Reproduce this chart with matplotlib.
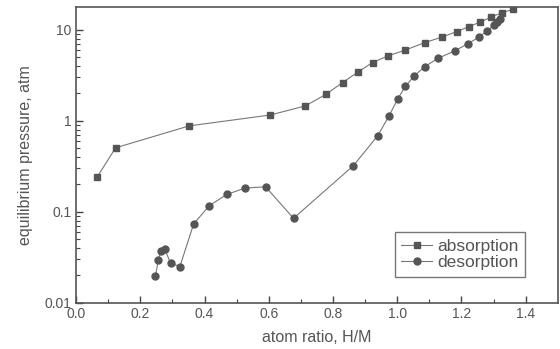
import matplotlib.pyplot as plt

plt.rcParams['font.family'] = ['Liberation Sans', 'DejaVu Sans']

abs_x = [0.065, 0.123, 0.352, 0.605, 0.714, 0.778, 0.830, 0.878, 0.923, 0.971,
         1.025, 1.086, 1.141, 1.185, 1.224, 1.258, 1.293, 1.327, 1.361]
abs_y = [0.24, 0.505, 0.88, 1.16, 1.46, 1.96, 2.64, 3.45, 4.38, 5.18,
         6.0, 7.27, 8.38, 9.6, 10.9, 12.2, 13.9, 15.5, 16.9]

des_x = [0.247, 0.256, 0.264, 0.276, 0.294, 0.323, 0.366, 0.414, 0.469, 0.526,
         0.590, 0.677, 0.863, 0.939, 0.975, 1.001, 1.025, 1.053, 1.086, 1.128,
         1.179, 1.221, 1.255, 1.280, 1.301, 1.311, 1.319]
des_y = [0.0195, 0.0295, 0.0367, 0.0386, 0.0273, 0.0249, 0.0733, 0.116, 0.155, 0.182,
         0.188, 0.0846, 0.32, 0.684, 1.14, 1.73, 2.39, 3.12, 3.96, 4.89,
         5.88, 7.08, 8.38, 9.75, 11.3, 12.2, 13.1]

xticks = [0.0, 0.2, 0.4, 0.6, 0.8, 1.0, 1.2, 1.4]
yticks = [0.01, 0.1, 1, 10]
ytick_labels = ["0.01", "0.1", "1", "10"]

txt = "#555555"
line_c = "#777777"
mark_c = "#555555"

fig = plt.figure(figsize=(5.6, 3.49), dpi=100)
ax = fig.add_axes([0.136, 0.133, 0.860, 0.847])

ax.plot(abs_x, abs_y, color=line_c, lw=0.8, marker="s", ms=5,
        mfc=mark_c, mec=mark_c, label="absorption")
ax.plot(des_x, des_y, color=line_c, lw=0.8, marker="o", ms=5,
        mfc=mark_c, mec=mark_c, label="desorption")

ax.set_yscale("log")
ax.set_xlim(0, 1.5)
ax.set_ylim(0.01, 17.9)
ax.set_xticks(xticks)
ax.set_xticklabels([f"{v:.1f}" for v in xticks])
ax.set_xticks([0.1, 0.3, 0.5, 0.7, 0.9, 1.1, 1.3], minor=True)
ax.set_yticks(yticks)
ax.set_yticklabels(ytick_labels)

ax.tick_params(which="both", direction="in", colors="#444444", labelcolor=txt,
               labelsize=10, top=False, right=False)
ax.tick_params(which="major", length=5, width=1)
ax.tick_params(which="minor", length=3, width=0.8)

for s in ax.spines.values():
    s.set_color("#555555")
    s.set_linewidth(1.2)

ax.set_xlabel("atom ratio, H/M", color=txt, fontsize=11.5, labelpad=6)
ax.set_ylabel("equilibrium pressure, atm", color=txt, fontsize=11.5, labelpad=8)

leg = ax.legend(loc="lower right", bbox_to_anchor=(0.932, 0.088), borderaxespad=0,
                fontsize=12.5, frameon=True, fancybox=False, handlelength=1.8,
                handletextpad=0.3, borderpad=0.35, labelspacing=0.1)
leg.get_frame().set_edgecolor("#555555")
leg.get_frame().set_linewidth(1.0)
for t in leg.get_texts():
    t.set_color(txt)

fig.savefig("out.png", dpi=100)
